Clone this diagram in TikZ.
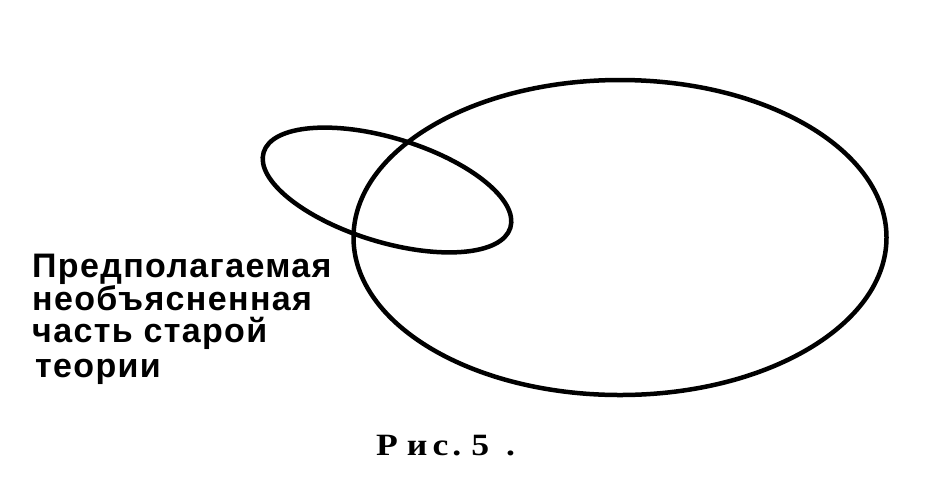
\documentclass[tikz,border=0pt]{standalone}
\usepackage{fontspec}
\usepackage{graphicx}
\newfontfamily\labfont{Liberation Sans}[BoldFont={* Bold}, LetterSpace=4]
\newfontfamily\capfont{Liberation Serif}[BoldFont={* Bold}]
\newcommand{\wideglyph}[1]{\scalebox{1.15}[1]{#1}}
\tikzset{
  curve/.style={line width=4.5pt, draw=black},
  lab/.style={anchor=base west, inner sep=0pt, font=\labfont\bfseries\fontsize{34}{36}\selectfont},
  capt/.style={anchor=base west, inner sep=0pt, font=\capfont\bfseries\fontsize{31}{34}\selectfont}
}
\begin{document}
\begin{tikzpicture}[x=1pt,y=-1pt]
\useasboundingbox (0,0) rectangle (944,483);
% large ellipse (new theory)
\draw[curve] (620,237.5) ellipse [x radius=266.5pt, y radius=157.5pt];
% small tilted ellipse (old theory)
\draw[curve, shift={(387,190)}, rotate=-17] (0,0) ellipse [x radius=129pt, y radius=52pt];
% label
\node[lab] (l1) at (32,277) {Предполагаемая};
\node[lab] (l2) at (32,310) {необъясненная};
\node[lab] (l3) at (32,342) {часть старой};
\node[lab] (l4) at (35,377) {теории};
% caption
\node[capt] (cap) at (376,455) {\wideglyph{Р}\hspace{9pt}\wideglyph{и}\hspace{5pt}\wideglyph{с}\hspace{4pt}\wideglyph{.}\hspace{10pt}\wideglyph{5}\hspace{17pt}\wideglyph{.}};
\end{tikzpicture}
\end{document}
